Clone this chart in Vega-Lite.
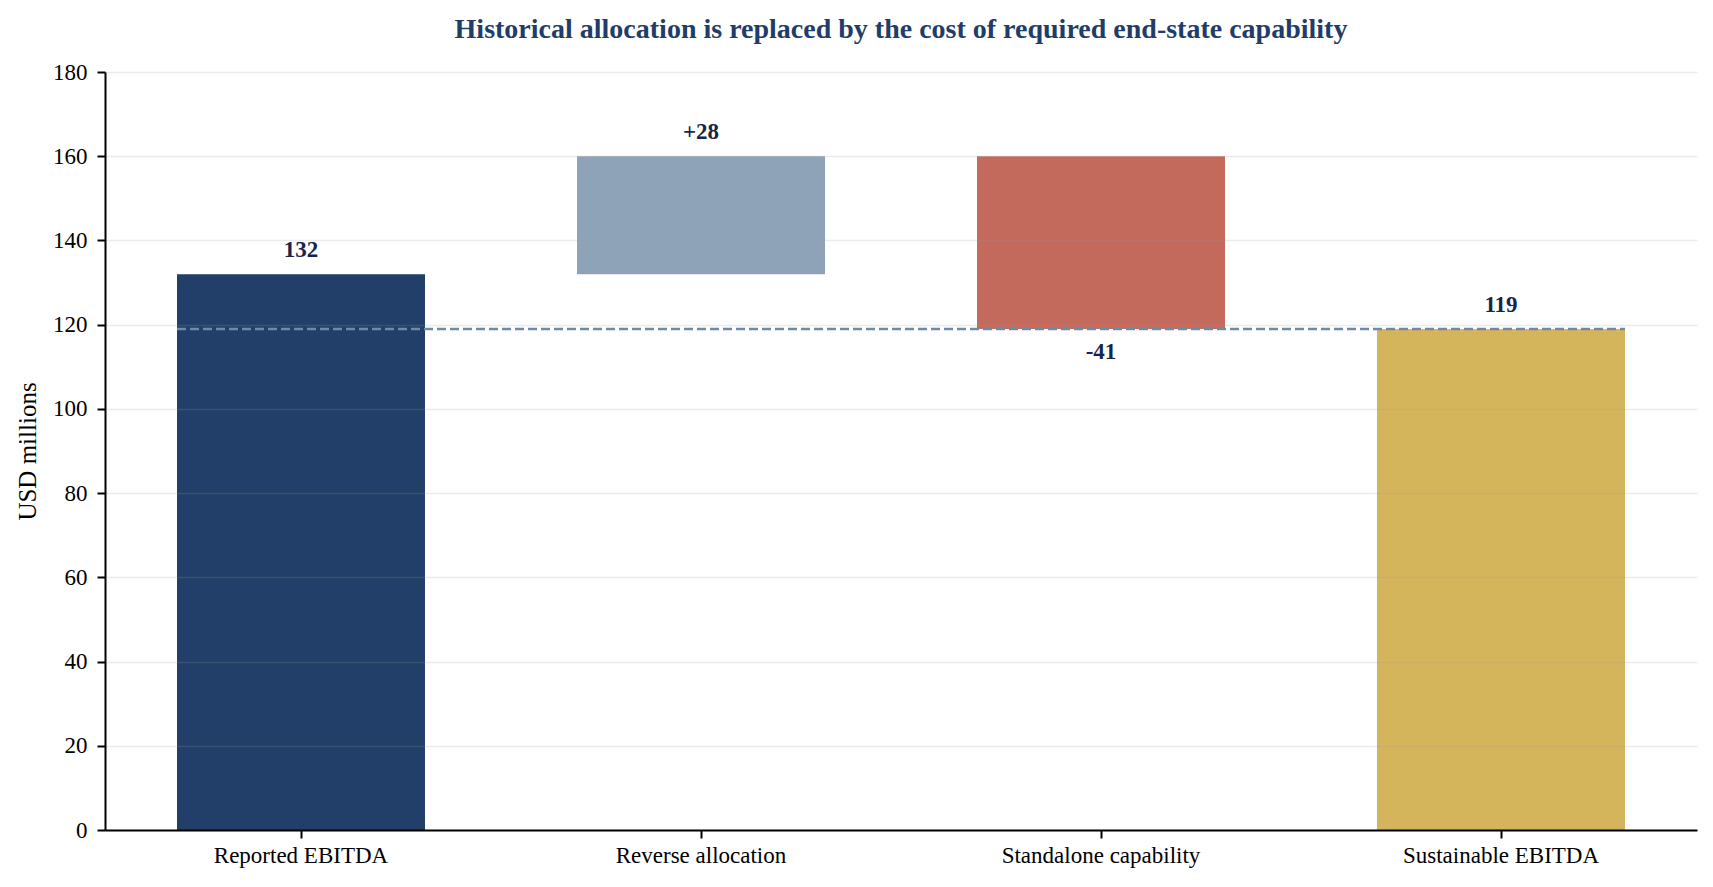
{
  "$schema": "https://vega.github.io/schema/vega-lite/v6.json",
  "width": 1592,
  "height": 758,
  "autosize": {"type": "none"},
  "padding": {"left": 105, "top": 72, "right": 16, "bottom": 57},
  "background": "white",
  "title": {
    "text": "Historical allocation is replaced by the cost of required end-state capability",
    "font": "Liberation Serif",
    "fontSize": 28,
    "fontWeight": "bold",
    "color": "#1f3d68",
    "anchor": "middle",
    "frame": "group",
    "baseline": "bottom",
    "offset": -11
  },
  "config": {
    "view": {"stroke": null},
    "font": "Liberation Serif"
  },
  "data": {
    "values": [
      {"step": "Reported EBITDA", "start": 0, "end": 132, "delta": 132, "label": "132"},
      {"step": "Reverse allocation", "start": 132, "end": 160, "delta": 28, "label": "+28"},
      {"step": "Standalone capability", "start": 160, "end": 119, "delta": -41, "label": "-41"},
      {"step": "Sustainable EBITDA", "start": 0, "end": 119, "delta": 119, "label": "119"}
    ]
  },
  "encoding": {
    "x": {
      "field": "step",
      "type": "nominal",
      "sort": null,
      "title": null,
      "scale": {"paddingInner": 0.38, "paddingOuter": 0.18},
      "axis": {
        "labelAngle": 0,
        "labelFont": "Liberation Serif",
        "labelFontSize": 23,
        "labelColor": "#000000",
        "labelLimit": 500,
        "tickSize": 8,
        "tickWidth": 2,
        "tickColor": "#000000",
        "domainColor": "#000000",
        "domainWidth": 2,
        "labelPadding": 6,
        "grid": false,
        "zindex": 1
      }
    }
  },
  "layer": [
    {
      "mark": {"type": "bar"},
      "encoding": {
        "y": {
          "field": "start",
          "type": "quantitative",
          "scale": {"domain": [0, 180], "nice": false},
          "title": "USD millions",
          "axis": {
            "values": [0, 20, 40, 60, 80, 100, 120, 140, 160, 180],
            "labelFont": "Liberation Serif",
            "labelFontSize": 23,
            "labelColor": "#000000",
            "tickSize": 8,
            "tickWidth": 2,
            "tickColor": "#000000",
            "domainColor": "#000000",
            "domainWidth": 2,
            "labelPadding": 10,
            "grid": true,
            "gridColor": "#999999",
            "gridOpacity": 0.2,
            "gridWidth": 1.5,
            "titleFont": "Liberation Serif",
            "titleFontSize": 25,
            "titleFontWeight": "normal",
            "titleColor": "#000000",
            "titleAngle": 270,
            "titleBaseline": "middle",
            "titleAlign": "center",
            "titleX": -78,
            "zindex": 1
          }
        },
        "y2": {"field": "end"},
        "color": {
          "field": "step",
          "type": "nominal",
          "sort": null,
          "scale": {
            "domain": ["Reported EBITDA", "Reverse allocation", "Standalone capability", "Sustainable EBITDA"],
            "range": ["#213f68", "#8fa3b8", "#c46a5d", "#d5b55c"]
          },
          "legend": null
        }
      }
    },
    {
      "data": {"values": [{"from": "Reported EBITDA", "to": "Sustainable EBITDA", "level": 119}]},
      "mark": {"type": "rule", "strokeDash": [9, 4], "strokeWidth": 2.5, "color": "#6e8aa6"},
      "encoding": {
        "x": {"field": "from", "type": "nominal", "bandPosition": 0},
        "x2": {"field": "to", "bandPosition": 1},
        "y": {"field": "level", "type": "quantitative"}
      }
    },
    {
      "transform": [{"filter": "datum.delta >= 0"}],
      "mark": {"type": "text", "font": "Liberation Serif", "fontSize": 23, "fontWeight": "bold", "color": "#15264a", "baseline": "alphabetic", "dy": -17},
      "encoding": {
        "y": {"field": "end", "type": "quantitative"},
        "text": {"field": "label"}
      }
    },
    {
      "transform": [{"filter": "datum.delta < 0"}],
      "mark": {"type": "text", "font": "Liberation Serif", "fontSize": 23, "fontWeight": "bold", "color": "#15264a", "baseline": "alphabetic", "dy": 30},
      "encoding": {
        "y": {"field": "end", "type": "quantitative"},
        "text": {"field": "label"}
      }
    }
  ]
}
